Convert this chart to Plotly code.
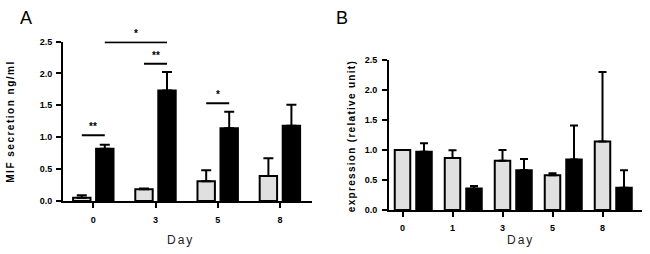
import plotly.graph_objects as go

# ---------------- data ----------------
days_a = ["0", "3", "5", "8"]
ctrl_a = [0.05, 0.185, 0.31, 0.39]
ctrl_a_err = [0.04, 0.01, 0.17, 0.28]
treat_a = [0.82, 1.73, 1.14, 1.18]
treat_a_err = [0.06, 0.29, 0.26, 0.33]

# significance: (group index from, side, group index to, side, y, label)
sig_a = [
    (0, -1, 0, 1, 1.03, "**"),
    (0, 1, 1, 1, 2.49, "*"),
    (1, -1, 1, 1, 2.15, "**"),
    (2, -1, 2, 1, 1.53, "*"),
]

days_b = ["0", "1", "3", "5", "8"]
ctrl_b = [1.00, 0.865, 0.82, 0.58, 1.14]
ctrl_b_err = [0.0, 0.13, 0.18, 0.03, 1.16]
treat_b = [0.97, 0.357, 0.66, 0.84, 0.37]
treat_b_err = [0.14, 0.04, 0.19, 0.57, 0.29]

yticks = [0, 0.5, 1.0, 1.5, 2.0, 2.5]

# ---------------- style ----------------
GRAY = "#e0e0e0"
BLACK = "#000000"
FONT = "Liberation Sans, Arial, sans-serif"
off_a = 0.185
w_a = 0.28
off_b = 0.43
w_b = 0.31

fig = go.Figure()

idx_a = list(range(len(days_a)))
fig.add_trace(go.Bar(
    x=[i - off_a for i in idx_a], y=ctrl_a, width=w_a,
    marker=dict(color=GRAY, line=dict(color=BLACK, width=2)),
    error_y=dict(type="data", symmetric=False, array=ctrl_a_err,
                 arrayminus=[0] * len(ctrl_a), color=BLACK, thickness=2, width=5),
    xaxis="x", yaxis="y", showlegend=False))
fig.add_trace(go.Bar(
    x=[i + off_a for i in idx_a], y=treat_a, width=w_a,
    marker=dict(color=BLACK, line=dict(color=BLACK, width=2)),
    error_y=dict(type="data", symmetric=False, array=treat_a_err,
                 arrayminus=[0] * len(treat_a), color=BLACK, thickness=2, width=5),
    xaxis="x", yaxis="y", showlegend=False))

idx_b = list(range(len(days_b)))
fig.add_trace(go.Bar(
    x=idx_b, y=ctrl_b, width=w_b,
    marker=dict(color=GRAY, line=dict(color=BLACK, width=2)),
    error_y=dict(type="data", symmetric=False, array=ctrl_b_err,
                 arrayminus=[0] * len(ctrl_b), color=BLACK, thickness=2, width=4),
    xaxis="x2", yaxis="y2", showlegend=False))
fig.add_trace(go.Bar(
    x=[i + off_b for i in idx_b], y=treat_b, width=w_b,
    marker=dict(color=BLACK, line=dict(color=BLACK, width=2)),
    error_y=dict(type="data", symmetric=False, array=treat_b_err,
                 arrayminus=[0] * len(treat_b), color=BLACK, thickness=2, width=4),
    xaxis="x2", yaxis="y2", showlegend=False))

shapes = []
annotations = []
for g0, s0, g1, s1, yv, lab in sig_a:
    x0 = g0 + s0 * off_a
    x1 = g1 + s1 * off_a
    shapes.append(dict(type="line", xref="x", yref="y", x0=x0, x1=x1, y0=yv, y1=yv,
                       line=dict(color=BLACK, width=2)))
    annotations.append(dict(xref="x", yref="y", x=(x0 + x1) / 2, y=yv, text=lab,
                            showarrow=False, yanchor="bottom", yshift=1,
                            font=dict(family=FONT, size=10, color=BLACK, weight="bold")))

def spaced(t, sp):
    return '<span style="letter-spacing:%spx">%s</span>' % (sp, t)

annotations += [
    dict(xref="paper", yref="paper", x=26 / 650, y=1 - 14 / 254, text="A", showarrow=False,
         xanchor="center", yanchor="middle", font=dict(family=FONT, size=18, color=BLACK)),
    dict(xref="paper", yref="paper", x=342 / 650, y=1 - 14 / 254, text="B", showarrow=False,
         xanchor="center", yanchor="middle", font=dict(family=FONT, size=18, color=BLACK)),
    dict(xref="paper", yref="paper", x=180 / 650, y=1 - 245 / 254, text=spaced("Day", 2),
         showarrow=False, xanchor="center", yanchor="middle",
         font=dict(family=FONT, size=12, color="#222")),
    dict(xref="paper", yref="paper", x=520 / 650, y=1 - 245 / 254, text=spaced("Day", 2),
         showarrow=False, xanchor="center", yanchor="middle",
         font=dict(family=FONT, size=12, color="#222")),
    dict(xref="paper", yref="paper", x=11 / 650, y=1 - 121.5 / 254,
         text=spaced("MIF secretion ng/ml", 1.5), textangle=-90, showarrow=False,
         xanchor="center", yanchor="middle",
         font=dict(family=FONT, size=10, color=BLACK, weight="bold")),
    dict(xref="paper", yref="paper", x=351 / 650, y=1 - 136.5 / 254,
         text=spaced("expression (relative unit)", 1.3), textangle=-90, showarrow=False,
         xanchor="center", yanchor="middle",
         font=dict(family=FONT, size=10, color=BLACK, weight="bold")),
]

axis_common = dict(showline=True, linecolor=BLACK, linewidth=2, ticks="outside",
                   ticklen=5, tickwidth=2, tickcolor=BLACK, showgrid=False, zeroline=False,
                   tickfont=dict(family=FONT, size=9, color=BLACK, weight="bold"))

fig.update_layout(
    width=650, height=254,
    margin=dict(l=0, r=0, t=0, b=0),
    paper_bgcolor="white", plot_bgcolor="white",
    barmode="overlay",
    showlegend=False,
    xaxis=dict(domain=[63 / 650, 312 / 650], range=[-0.487, 3.516],
               tickvals=idx_a, ticktext=days_a, anchor="y", ticklabelstandoff=4,
               **axis_common),
    yaxis=dict(domain=[50 / 254, 216 / 254], range=[0, 2.5], tickvals=yticks,
               tickformat=".1f", anchor="x", ticklabelstandoff=2, **axis_common),
    xaxis2=dict(domain=[389 / 650, 642 / 650], range=[-0.27, 4.79],
                tickvals=idx_b, ticktext=days_b, anchor="y2", ticklabelstandoff=3,
                **axis_common),
    yaxis2=dict(domain=[40.7 / 254, 196.7 / 254], range=[0, 2.5], tickvals=yticks,
                tickformat=".1f", anchor="x2", ticklabelstandoff=3, **axis_common),
    shapes=shapes,
    annotations=annotations,
)

fig.write_html("out.html", config={"displayModeBar": False},
               post_script="document.body.style.margin='0';document.body.style.padding='0';")
